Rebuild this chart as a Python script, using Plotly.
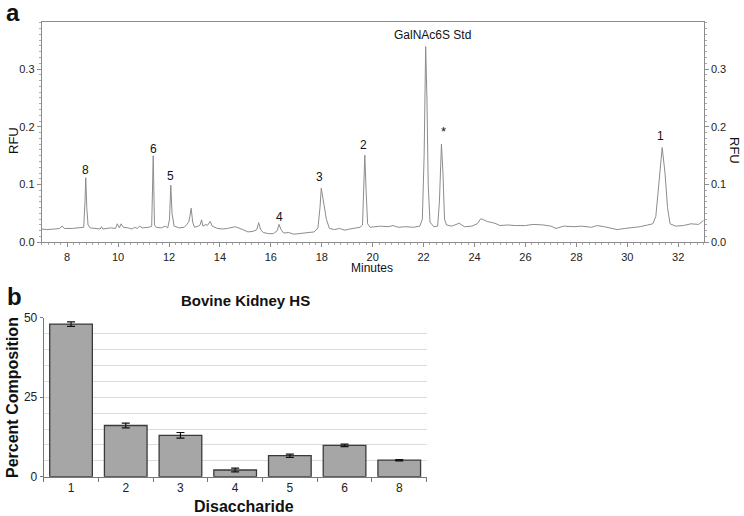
import plotly.graph_objects as go

# ---------------- Panel a: chromatogram ----------------
minutes = [7.00, 7.2, 7.5, 7.7, 7.8, 7.9, 8.2, 8.5, 8.65, 8.70, 8.73, 8.77, 8.82, 8.9,
           9.1, 9.3, 9.35, 9.4, 9.7, 9.9, 9.97, 10.05, 10.12, 10.2, 10.4, 10.55, 10.65,
           10.75, 10.85, 10.95, 11.2, 11.32, 11.38, 11.43, 11.5, 11.7, 11.85, 11.95,
           12.02, 12.07, 12.12, 12.2, 12.4, 12.6, 12.72, 12.78, 12.82, 12.87, 12.93,
           13.0, 13.15, 13.22, 13.28, 13.33, 13.45, 13.5, 13.62, 13.7, 13.9, 14.1,
           14.3, 14.6, 14.9, 15.1, 15.3, 15.45, 15.52, 15.6, 15.7, 15.9, 16.1, 16.25,
           16.32, 16.40, 16.5, 16.7, 16.9, 17.2, 17.5, 17.7, 17.85, 17.93, 17.98,
           18.05, 18.10, 18.18, 18.3, 18.5, 18.7, 18.9, 19.1, 19.3, 19.5, 19.6, 19.65,
           19.69, 19.74, 19.8, 19.9, 20.1, 20.3, 20.6, 20.8, 21.0, 21.3, 21.6, 21.85,
           21.95, 22.02, 22.08, 22.13, 22.18, 22.25, 22.4, 22.55, 22.62, 22.70, 22.76,
           22.82, 22.9, 23.1, 23.4, 23.6, 23.9, 24.1, 24.25, 24.5, 24.8, 25.0, 25.3,
           25.6, 26.0, 26.3, 26.7, 27.0, 27.2, 27.5, 27.9, 28.2, 28.6, 28.8, 29.1,
           29.4, 29.6, 29.9, 30.2, 30.5, 30.8, 31.0, 31.12, 31.25, 31.37, 31.48,
           31.58, 31.68, 31.9, 32.2, 32.5, 32.8, 33.0]
rfu = [0.023, 0.022, 0.023, 0.024, 0.028, 0.024, 0.024, 0.025, 0.026, 0.070, 0.112, 0.060, 0.030, 0.025,
       0.024, 0.023, 0.027, 0.023, 0.025, 0.024, 0.032, 0.025, 0.032, 0.026, 0.025, 0.023, 0.026,
       0.024, 0.028, 0.025, 0.026, 0.028, 0.150, 0.030, 0.026, 0.025, 0.028, 0.025,
       0.040, 0.099, 0.050, 0.028, 0.025, 0.026, 0.032, 0.036, 0.045, 0.059, 0.035,
       0.026, 0.028, 0.030, 0.039, 0.028, 0.031, 0.029, 0.036, 0.028, 0.024, 0.023,
       0.024, 0.027, 0.022, 0.018, 0.019, 0.022, 0.034, 0.022, 0.017, 0.015, 0.015, 0.020,
       0.031, 0.022, 0.016, 0.017, 0.014, 0.015, 0.017, 0.018, 0.025, 0.060, 0.094,
       0.075, 0.060, 0.040, 0.024, 0.022, 0.024, 0.021, 0.023, 0.024, 0.026, 0.030, 0.090,
       0.151, 0.090, 0.032, 0.026, 0.027, 0.028, 0.027, 0.029, 0.026, 0.027, 0.026, 0.028,
       0.040, 0.150, 0.339, 0.250, 0.100, 0.035, 0.027, 0.028, 0.070, 0.170, 0.120,
       0.040, 0.030, 0.028, 0.033, 0.027, 0.028, 0.032, 0.041, 0.036, 0.033, 0.029, 0.030,
       0.029, 0.029, 0.031, 0.030, 0.028, 0.024, 0.028, 0.027, 0.028, 0.026, 0.029, 0.027,
       0.024, 0.022, 0.024, 0.025, 0.027, 0.030, 0.032, 0.045, 0.110, 0.164, 0.120,
       0.060, 0.032, 0.028, 0.029, 0.032, 0.031, 0.038]

peak_labels = ["8", "6", "5", "4", "3", "2", "GalNAc6S Std", "*", "1"]
peak_label_x = [8.73, 11.38, 12.07, 16.32, 17.92, 19.65, 22.35, 22.78, 31.29]
peak_label_y = [0.126, 0.162, 0.114, 0.044, 0.113, 0.169, 0.359, 0.192, 0.184]

# ---------------- Panel b: composition bars ----------------
disaccharides = ["1", "2", "3", "4", "5", "6", "8"]
percent = [48.0, 16.1, 13.0, 2.1, 6.6, 9.85, 5.2]
percent_err = [0.7, 0.75, 0.9, 0.6, 0.5, 0.4, 0.2]

FONT = "Liberation Sans, Arial, sans-serif"
W, H = 744, 516

fig = go.Figure()
fig.add_trace(go.Scatter(x=minutes, y=rfu, mode="lines",
                         line=dict(color="#8c8c8c", width=1),
                         xaxis="x", yaxis="y", showlegend=False, hoverinfo="skip"))
fig.add_trace(go.Scatter(x=minutes, y=rfu, mode="lines",
                         line=dict(color="rgba(0,0,0,0)", width=0),
                         xaxis="x", yaxis="y2", showlegend=False, hoverinfo="skip"))
fig.add_trace(go.Bar(x=disaccharides, y=percent,
                     error_y=dict(type="data", array=percent_err, color="#111111",
                                  thickness=1.2, width=4),
                     marker=dict(color="#a6a6a6", line=dict(color="#3a3a3a", width=1.3)),
                     xaxis="x2", yaxis="y3", showlegend=False))

def px_x(p):
    return p / W

def px_y(p):
    return 1 - p / H

axcol = "#8c8c8c"
fig.update_layout(
    width=W, height=H, margin=dict(l=0, r=0, t=0, b=0, pad=0, autoexpand=False),
    paper_bgcolor="white", plot_bgcolor="white", showlegend=False,
    font=dict(family=FONT, size=11, color="#222222"),
    bargap=0.22,
    xaxis=dict(domain=[px_x(41.7), px_x(703.7)], range=[7, 33], anchor="y", automargin=False,
               tickmode="linear", tick0=8, dtick=2, showgrid=False, zeroline=False,
               showline=True, linecolor=axcol, linewidth=1, mirror=True,
               ticks="outside", ticklen=4, tickcolor=axcol,
               minor=dict(ticks="outside", ticklen=2, dtick=0.25, tickcolor="#aaaaaa"),
               tickfont=dict(size=11, color="#222222")),
    yaxis=dict(domain=[px_y(242.3), px_y(21.7)], range=[0, 0.382], anchor="x", automargin=False,
               tickvals=[0, 0.1, 0.2, 0.3], tickformat=".1f", showgrid=False, zeroline=False,
               showline=True, linecolor=axcol, linewidth=1,
               ticks="outside", ticklen=4, tickcolor=axcol,
               minor=dict(ticks="outside", ticklen=2, dtick=0.01, tickcolor="#aaaaaa"),
               tickfont=dict(size=11, color="#222222")),
    yaxis2=dict(overlaying="y", side="right", anchor="x", range=[0, 0.382], automargin=False,
                tickvals=[0, 0.1, 0.2, 0.3], tickformat=".1f", showgrid=False, zeroline=False,
                showline=True, linecolor=axcol, linewidth=1,
                ticks="outside", ticklen=4, tickcolor=axcol,
                minor=dict(ticks="outside", ticklen=2, dtick=0.01, tickcolor="#aaaaaa"),
                tickfont=dict(size=11, color="#222222")),
    xaxis2=dict(domain=[px_x(43.7), px_x(426.6)], anchor="y3", type="category", automargin=False,
                showgrid=False, zeroline=False, showline=True, linecolor="#777777",
                linewidth=1, ticks="outside", tickson="boundaries", ticklen=4,
                tickcolor="#777777", tickfont=dict(size=12, color="#222222")),
    yaxis3=dict(domain=[px_y(476.7), px_y(317.7)], range=[0, 50], anchor="x2", automargin=False,
                tickvals=[0, 25, 50], showgrid=True, gridcolor="#dcdcdc", zeroline=False,
                showline=True, linecolor="#777777", linewidth=1,
                ticks="outside", ticklen=3, tickcolor="#777777",
                minor=dict(dtick=5, showgrid=True, gridcolor="#dcdcdc"),
                tickfont=dict(size=12, color="#222222")),
)

ann = []
for t, x, y in zip(peak_labels, peak_label_x, peak_label_y):
    ann.append(dict(text=t, x=x, y=y, xref="x", yref="y", showarrow=False,
                    xanchor="center", yanchor="middle",
                    font=dict(size=13 if t == "*" else 12, color="#111111")))

def paper_text(text, x, y, size, angle=0):
    return dict(text=text, x=px_x(x), y=px_y(y), xref="paper", yref="paper",
                xanchor="center", yanchor="middle", textangle=angle, showarrow=False,
                font=dict(size=size, color="#111111"))

ann += [
    paper_text("<b>a</b>", 13, 12, 24),
    paper_text("<b>b</b>", 14, 296, 24),
    paper_text("RFU", 13, 140, 13, -90),
    paper_text("RFU", 735, 150, 13, 90),
    paper_text("Minutes", 372, 268, 12),
    paper_text("<b>Bovine Kidney HS</b>", 245, 300, 15),
    paper_text("<b>Percent Composition</b>", 12, 398, 16, -90),
    paper_text("<b>Disaccharide</b>", 244, 506, 16),
]
fig.update_layout(annotations=ann)

fig.write_html("out.html", config={"displayModeBar": False},
               post_script="document.body.style.margin='0';document.body.style.padding='0';")
